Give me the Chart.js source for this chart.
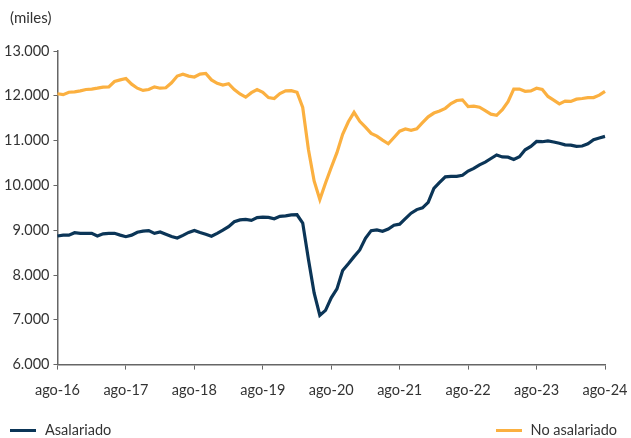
<!DOCTYPE html>
<html>
<head>
<meta charset="utf-8">
<script src="https://cdn.jsdelivr.net/npm/chart.js@4/dist/chart.umd.min.js"></script>
<style>
  html, body { margin: 0; padding: 0; background: #fff; }
  #wrap { position: relative; width: 631px; height: 438px; font-family: Lato, "Open Sans", sans-serif; color: #333; }
  #chart { position: absolute; left: 0; top: 0; }
  .unit { position: absolute; left: 10px; top: 8px; font-size: 15px; line-height: 18px; }
  .leg { position: absolute; top: 421px; font-size: 14.5px; line-height: 18px; }
  .leg i { display: inline-block; width: 26px; height: 3px; vertical-align: middle; margin-right: 9px; position: relative; top: -1px; }
</style>
</head>
<body>
<div id="wrap">
  <canvas id="chart" width="631" height="438"></canvas>
  <div class="unit">(miles)</div>
  <div class="leg" style="left:10px"><i style="background:#0b3557"></i>Asalariado</div>
  <div class="leg" style="right:14px"><i style="background:#fbb040"></i>No asalariado</div>
</div>
<script>
// meses ago-16 ... ago-24
var mesesAbr = ['ene','feb','mar','abr','may','jun','jul','ago','sep','oct','nov','dic']
var labels = []
for (var k = 0; k < 97; k++) {
  var m = (7 + k) % 12
  var y = 16 + Math.floor((7 + k) / 12)
  labels.push(mesesAbr[m] + '-' + y)
}

// Asalariado (miles)
var asalariado = [
  8870, 8890, 8890, 8945, 8930, 8930, 8930, 8870, 8920, 8930, 8930, 8890,
  8855, 8890, 8955, 8980, 8990, 8930, 8960, 8910, 8860, 8825, 8885, 8950,
  8995, 8950, 8910, 8865, 8930, 9000, 9080, 9190, 9230, 9240, 9220, 9280,
  9290, 9285, 9255, 9310, 9320, 9340, 9345, 9160, 8350, 7600, 7100, 7210,
  7490, 7690, 8100, 8250, 8410, 8560, 8820, 8990, 9005, 8975, 9025, 9110,
  9135, 9260, 9380, 9460, 9500, 9620, 9935, 10065, 10190, 10200, 10200, 10225,
  10320, 10380, 10460, 10520, 10600, 10680, 10635, 10630, 10580, 10640, 10795, 10870,
  10980, 10975, 10995, 10970, 10940, 10905, 10900, 10870, 10880, 10930, 11020, 11060,
  11095
]

// No asalariado (miles)
var noAsalariado = [
  12045, 12025, 12080, 12088, 12110, 12140, 12150, 12170, 12195, 12200, 12320, 12355,
  12385, 12260, 12170, 12120, 12140, 12200, 12170, 12180, 12290, 12440, 12480, 12440,
  12420, 12485, 12500, 12355, 12280, 12240, 12270, 12140, 12040, 11970, 12070, 12140,
  12080, 11960, 11940, 12050, 12110, 12115, 12080, 11740, 10800, 10100, 9685, 10055,
  10400, 10730, 11140, 11420, 11630, 11430, 11300, 11160, 11100, 11010, 10930, 11070,
  11210, 11260, 11230, 11265, 11400, 11530, 11615, 11660, 11720, 11825, 11895, 11910,
  11760, 11770, 11745, 11670, 11590, 11565, 11690, 11870, 12150, 12150, 12100, 12110,
  12170, 12140, 11985, 11905, 11820, 11880, 11875, 11925, 11940, 11960, 11960, 12015,
  12100
]

var yTicks = [6000, 7000, 8000, 9000, 10000, 11000, 12000, 13000]

var fmt = function (v) {
  return String(v).replace(/\B(?=(\d{3})+(?!\d))/g, '.')
}

var ctx = document.getElementById('chart').getContext('2d')
var chart = new Chart(ctx, {
  type: 'line',
  data: {
    labels: labels,
    datasets: [
      { label: 'Asalariado', data: asalariado, borderColor: '#0b3557', borderWidth: 3.2, pointRadius: 0, tension: 0 },
      { label: 'No asalariado', data: noAsalariado, borderColor: '#fbb040', borderWidth: 3.2, pointRadius: 0, tension: 0 }
    ]
  },
  options: {
    responsive: false,
    animation: false,
    layout: { padding: { left: 0, right: 26, top: 51, bottom: 27 } },
    plugins: {
      legend: { display: false },
      tooltip: { enabled: false }
    },
    scales: {
      x: {
        // keep the last label from pushing the plot area in
        afterFit: function (scale) { scale.paddingRight = 0 },
        grid: { drawOnChartArea: false, drawTicks: true, tickLength: 5, color: '#666' },
        border: { color: '#666', width: 1.5 },
        ticks: {
          autoSkip: false,
          maxRotation: 0,
          padding: 12,
          color: '#333',
          font: { family: 'Lato', size: 14.5 },
          callback: function (val, i) { return i % 12 === 0 ? labels[i] : null }
        }
      },
      y: {
        min: 6000,
        max: 13000,
        afterBuildTicks: function (axis) { axis.ticks = yTicks.map(function (v) { return { value: v } }) },
        grid: { drawOnChartArea: false, drawTicks: true, tickLength: 4, color: '#666' },
        border: { color: '#666', width: 1.5 },
        ticks: {
          padding: 4,
          color: '#333',
          font: { family: 'Lato', size: 14.5 },
          callback: function (v) { return fmt(v) }
        }
      }
    }
  }
})
</script>
</body>
</html>
